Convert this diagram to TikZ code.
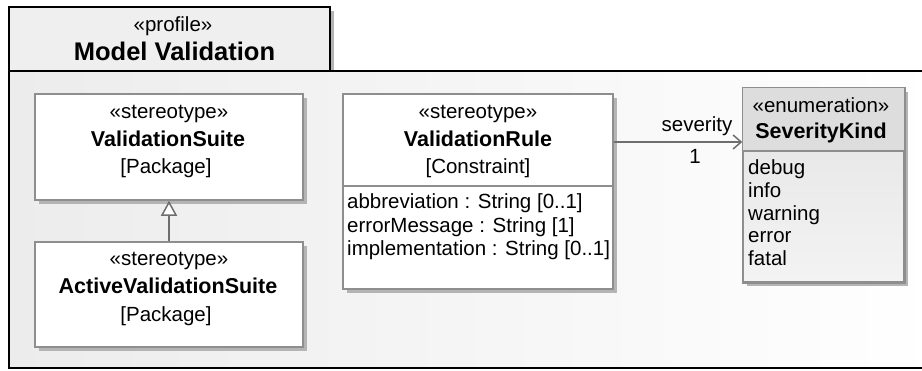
\documentclass[tikz,border=0pt]{standalone}
\usepackage{fontspec}
\setmainfont{Liberation Sans}
\usetikzlibrary{arrows.meta,shadows}

\definecolor{pkgfill}{HTML}{EFEFEF}
\definecolor{pkgbody}{HTML}{ECECEC}
\definecolor{boxline}{HTML}{8E8E8E}
\definecolor{shadowgray}{HTML}{B4B4B4}
\definecolor{enumhead}{HTML}{DDDDDD}
\definecolor{enumtop}{HTML}{E4E4E4}
\definecolor{enumbot}{HTML}{F3F3F3}
\definecolor{linkgray}{HTML}{6E6E6E}

\tikzset{
  txt/.style={font=\fontsize{20.5}{23}\selectfont, inner sep=0pt, text height=15pt, text depth=4pt},
  bold/.style={txt, font=\fontsize{21.5}{23}\selectfont\bfseries},
  umlbox/.style={rectangle, draw=boxline, line width=1.5pt, fill=white, inner sep=0pt,
    general shadow={fill=shadowgray, shadow xshift=4pt, shadow yshift=-4pt}},
  enumbox/.style={umlbox, top color=enumtop, bottom color=enumbot},
  divider/.style={draw=boxline, line width=1.5pt},
  link/.style={draw=linkgray, line width=1.5pt},
}

\begin{document}
\begin{tikzpicture}[x=1pt, y=-1pt]
  \useasboundingbox (0,0) rectangle (922,370);
  \clip (0,0) rectangle (922,370);
  \fill[white] (0,0) rectangle (922,370);

  % profile package: tab and body
  \fill[shadowgray] (330,11) rectangle (334,71);
  \node[draw=black, line width=1.3pt, fill=pkgfill, minimum width=321pt, minimum height=64pt, inner sep=0pt]
    (tab) at (169.5,39) {};
  \path[left color=pkgbody, right color=white, draw=black, line width=1.3pt]
    (9,71) rectangle (940,368);
  \node[txt] (tabstereo) at (173,26) {«profile»};
  \node[txt, font=\fontsize{25.5}{27}\selectfont\bfseries] (tabname) at (174.5,55) {Model Validation};

  % ValidationSuite
  \node[umlbox, minimum width=268pt, minimum height=106pt] (vs) at (169,147) {};
  \node[txt] (vsst) at (169,113) {«stereotype»};
  \node[bold] (vsnm) at (168,141) {ValidationSuite};
  \node[txt] (vsmc) at (166,168) {[Package]};

  % ActiveValidationSuite
  \node[umlbox, minimum width=268pt, minimum height=105pt] (avs) at (169,294.5) {};
  \node[txt] (avsst) at (169,260) {«stereotype»};
  \node[bold] (avsnm) at (168,288) {ActiveValidationSuite};
  \node[txt] (avsmc) at (166,316) {[Package]};

  % ValidationRule with attributes
  \node[umlbox, minimum width=270pt, minimum height=195pt] (vr) at (478,191.5) {};
  \coordinate (vrdiv) at (0,186);
  \draw[divider] (vr.west |- vrdiv) -- (vr.east |- vrdiv);
  \node[txt] (vrst) at (478,113) {«stereotype»};
  \node[bold] (vrnm) at (478,141) {ValidationRule};
  \node[txt] (vrmc) at (478,168) {[Constraint]};
  \node[txt, anchor=west] (vra1) at (347,203) {abbreviation : String [0..1]};
  \node[txt, anchor=west] (vra2) at (347,226.5) {errorMessage : String [1]};
  \node[txt, anchor=west] (vra3) at (347,250) {implementation : String [0..1]};

  % SeverityKind enumeration
  \node[enumbox, minimum width=161pt, minimum height=194pt] (sk) at (823.5,185) {};
  \coordinate (skdiv) at (0,151);
  \fill[enumhead] (sk.north west) rectangle (sk.east |- skdiv);
  \draw[divider] (sk.north west) rectangle (sk.south east);
  \draw[divider] (sk.west |- skdiv) -- (sk.east |- skdiv);
  \node[txt] (skst) at (821,107) {«enumeration»};
  \node[bold] (sknm) at (821,133) {SeverityKind};
  \node[txt, anchor=west] (skl1) at (748,169) {debug};
  \node[txt, anchor=west] (skl2) at (748,191.5) {info};
  \node[txt, anchor=west] (skl3) at (748,214.5) {warning};
  \node[txt, anchor=west] (skl4) at (748,237) {error};
  \node[txt, anchor=west] (skl5) at (748,260) {fatal};

  % generalization
  \draw[link, -{Triangle[open, length=15pt, width=16pt, fill=white]}] (avs.north) -- (vs.south);

  % association
  \coordinate (assocy) at (0,142);
  \draw[link, -{Straight Barb[length=8pt, width=14pt]}] (vr.east |- assocy) -- (sk.west |- assocy);
  \node[txt] (rolename) at (697,126) {severity};
  \node[txt] (mult) at (695,158) {1};
\end{tikzpicture}
\end{document}
